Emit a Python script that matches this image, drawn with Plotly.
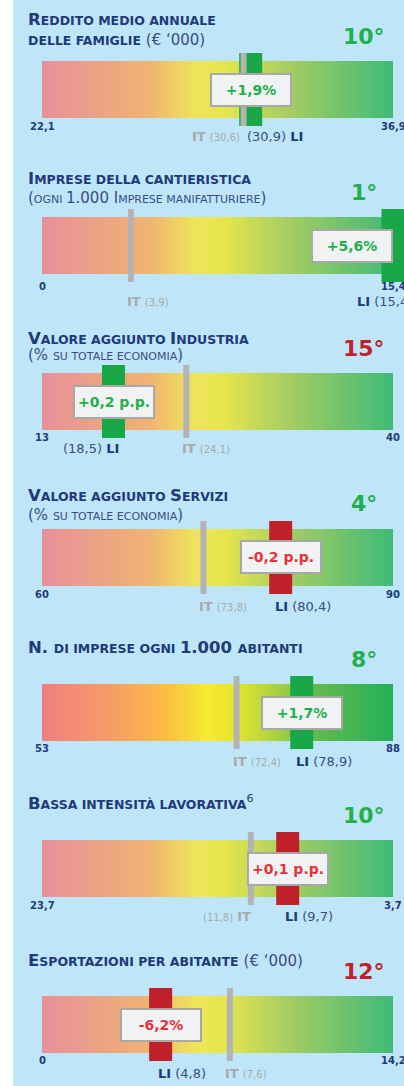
import numpy as np
import plotly.graph_objects as go

titles = [
    "Reddito medio annuale",
    "Imprese della cantieristica",
    "Valore aggiunto Industria",
    "Valore aggiunto Servizi",
    "N. di imprese ogni 1.000 abitanti",
    "Bassa intensità lavorativa",
    "Esportazioni per abitante",
]
title_bold2 = ["delle famiglie", "", "", "", "", "", ""]
title_note = ["(€ ‘000)", "(ogni 1.000 Imprese manifatturiere)", "(% su totale economia)",
              "(% su totale economia)", "", "", "(€ ‘000)"]
title_sup = ["", "", "", "", "", "6", ""]
left_vals = [22.1, 0, 13, 60, 53, 23.7, 0]
right_vals = [36.9, 15.4, 40, 90, 88, 3.7, 14.2]
it_vals = [30.6, 3.9, 24.1, 73.8, 72.4, 11.8, 7.6]
li_vals = [30.9, 15.4, 18.5, 80.4, 78.9, 9.7, 4.8]
deltas = ["+1,9%", "+5,6%", "+0,2 p.p.", "-0,2 p.p.", "+1,7%", "+0,1 p.p.", "-6,2%"]
delta_good = [True, True, True, False, True, False, False]
ranks = ["10°", "1°", "15°", "4°", "8°", "10°", "12°"]
rank_good = [True, True, False, True, True, True, False]

# ---- layout constants (pixels) ----
W, H = 404, 1086
BAR_L, BAR_R, BAR_H, EXT = 42, 393, 57, 8
bar_top = [61, 217, 373, 529, 684, 840, 996]
title_y = [(20, 40), (179, 198), (338, 355), (495, 515), (647, None), (802, None), (960, None)]
tick_off = [8, 13, 8, 8, 7, 8, 7]
label_off = [18, 27, 18, 20, 20, 19, 20]
# (anchor, value first, xshift)
it_lab = [("right", False, -2), ("left", False, -6), ("left", False, -6), ("left", False, -6),
          ("left", False, -6), ("right", True, 2), ("left", False, -7)]
li_lab = [("left", True, -6), ("right", False, 22), ("right", True, 7), ("left", False, -8),
          ("left", False, -8), ("left", False, -5), ("left", False, -5)]

NAVY = "#22397a"
NAVY2 = "#3a4c86"
GRAY = "#a9a9a9"
GREEN = "#22b04c"
RED_RANK = "#c4202a"
RED_TXT = "#e6303a"
MARK_GREEN = "#19a748"
MARK_RED = "#c0202a"
FONT = "DejaVu Sans"

pale = [[0, "#e8909a"], [0.3, "#f0b272"], [0.44, "#efe45a"], [0.52, "#e6e64c"],
        [0.7, "#a6cd62"], [1, "#3fbb78"]]
vivid = [[0, "#f27e80"], [0.18, "#f69a68"], [0.35, "#fcbc44"], [0.47, "#f7ea30"],
         [0.54, "#e8e62a"], [0.62, "#c4da3c"], [0.78, "#62bb4e"], [1, "#24ae5a"]]
scales = [pale, pale, pale, pale, vivid, pale, pale]


def small_caps(text, big, small):
    runs = []
    for ch in text:
        kind = "s" if ch.islower() else ("x" if ch == " " else "b")
        if kind == "x":
            kind = runs[-1][0] if runs else "b"
        if runs and runs[-1][0] == kind:
            runs[-1][1] += ch
        else:
            runs.append([kind, ch])
    out = ""
    for kind, s in runs:
        size = small if kind == "s" else big
        out += f"<span style='font-size:{size}px'>{s.upper()}</span>"
    return out


def fmt(v):
    if float(v).is_integer():
        return str(int(v))
    return f"{v:.1f}".replace(".", ",")


def py(px):
    return 1 - px / H


fig = go.Figure()
shapes = [dict(type="rect", xref="paper", yref="paper", x0=13 / W, x1=1, y0=0, y1=1,
               fillcolor="#bfe6f8", line_width=0, layer="below")]
annotations = []
span_px = BAR_R - BAR_L

for i in range(7):
    n = i + 1
    xa, ya = f"x{n}", f"y{n}"
    l, r = left_vals[i], right_vals[i]
    d = r - l
    top = bar_top[i]
    bot = top + BAR_H

    fig.update_layout(**{
        f"xaxis{n}": dict(domain=[0, 1], range=[l - BAR_L / span_px * d, r + (W - BAR_R) / span_px * d],
                          visible=False, fixedrange=True, anchor=ya),
        f"yaxis{n}": dict(domain=[py(bot + EXT), py(top - EXT)], range=[-EXT / BAR_H, 1 + EXT / BAR_H],
                          visible=False, fixedrange=True, anchor=xa),
    })

    # gradient band
    lo, hi = min(l, r), max(l, r)
    edges = np.linspace(lo, hi, 161)
    mids = (edges[:-1] + edges[1:]) / 2
    frac = (mids - l) / d
    fig.add_trace(go.Heatmap(x=edges, y=[0, 1], z=[frac], zmin=0, zmax=1, colorscale=scales[i],
                             showscale=False, hoverinfo="skip", xaxis=xa, yaxis=ya))

    # LI marker and IT line
    mcol = MARK_GREEN if delta_good[i] else MARK_RED
    shapes.append(dict(type="rect", xref=xa, yref=ya, xsizemode="pixel", xanchor=li_vals[i],
                       x0=-11.5, x1=11.5, y0=-EXT / BAR_H, y1=1 + EXT / BAR_H,
                       fillcolor=mcol, line_width=0, layer="above"))
    shapes.append(dict(type="rect", xref=xa, yref=ya, xsizemode="pixel", xanchor=it_vals[i],
                       x0=-3, x1=3, y0=-EXT / BAR_H, y1=1 + EXT / BAR_H,
                       fillcolor="#b3b3b3", line_width=0, layer="above"))

    # delta box, kept inside the bar on the right
    fmax = (BAR_R - 41 - BAR_L) / span_px
    center = l + min((li_vals[i] - l) / d, fmax) * d
    annotations.append(dict(xref=xa, yref=ya, x=center, y=0.5, showarrow=False,
                            text=f"<b>{deltas[i]}</b>",
                            font=dict(family=FONT, size=14, color=GREEN if delta_good[i] else RED_TXT),
                            bgcolor="#f1f2f4", bordercolor="#a8a8a8", borderwidth=2, borderpad=1,
                            width=76, height=28, align="center"))

    # end ticks
    for v in (l, r):
        annotations.append(dict(xref=xa, yref="paper", x=v, y=py(bot + tick_off[i]), showarrow=False,
                                text=f"<b>{fmt(v)}</b>", xanchor="center", yanchor="middle",
                                font=dict(family=FONT, size=10, color=NAVY)))

    # IT / LI labels
    anc, vfirst, xs = it_lab[i]
    nm = "<b><span style='font-size:13px'>IT</span></b>"
    val = f"<span style='font-size:10px'>({fmt(it_vals[i])})</span>"
    txt = f"{val} {nm}" if vfirst else f"{nm} {val}"
    annotations.append(dict(xref=xa, yref="paper", x=it_vals[i], xshift=xs, y=py(bot + label_off[i]),
                            showarrow=False, text=txt, xanchor=anc, yanchor="middle",
                            font=dict(family=FONT, size=13, color=GRAY)))
    anc, vfirst, xs = li_lab[i]
    nm = f"<b><span style='color:{NAVY}'>LI</span></b>"
    val = f"({fmt(li_vals[i])})"
    txt = f"{val} {nm}" if vfirst else f"{nm} {val}"
    annotations.append(dict(xref=xa, yref="paper", x=li_vals[i], xshift=xs, y=py(bot + label_off[i]),
                            showarrow=False, text=txt, xanchor=anc, yanchor="middle",
                            font=dict(family=FONT, size=13, color=NAVY2)))

    # rank
    annotations.append(dict(xref="paper", yref="paper", x=364 / W, y=py(top - 25), showarrow=False,
                            text=f"<b>{ranks[i]}</b>", xanchor="center", yanchor="middle",
                            font=dict(family=FONT, size=22, color=GREEN if rank_good[i] else RED_RANK)))

    # title lines
    y1, y2 = title_y[i]
    line1 = "<b>" + small_caps(titles[i], 16.5, 12.5) + "</b>"
    if title_sup[i]:
        line1 += f"<sup>{title_sup[i]}</sup>"
    if not y2 and title_note[i]:
        line1 += f" <span style='font-size:15px;color:{NAVY2}'>{title_note[i]}</span>"
    annotations.append(dict(xref="paper", yref="paper", x=26 / W, y=py(y1), showarrow=False,
                            text=line1, xanchor="left", yanchor="middle",
                            font=dict(family=FONT, size=16, color=NAVY)))
    if y2:
        if title_bold2[i]:
            line2 = "<b>" + small_caps(title_bold2[i], 16.5, 12.5) + "</b> "
            line2 += f"<span style='font-size:15px;color:{NAVY2}'>{title_note[i]}</span>"
        else:
            line2 = f"<span style='color:{NAVY2}'>" + small_caps(title_note[i], 15, 11) + "</span>"
        annotations.append(dict(xref="paper", yref="paper", x=26 / W, y=py(y2), showarrow=False,
                                text=line2, xanchor="left", yanchor="middle",
                                font=dict(family=FONT, size=15, color=NAVY)))

fig.update_layout(width=W, height=H, margin=dict(l=0, r=0, t=0, b=0),
                  paper_bgcolor="white", plot_bgcolor="rgba(0,0,0,0)",
                  showlegend=False, shapes=shapes, annotations=annotations)

fig.write_html("out.html", config={"displayModeBar": False},
               post_script="document.body.style.margin='0';document.body.style.overflow='hidden';")
